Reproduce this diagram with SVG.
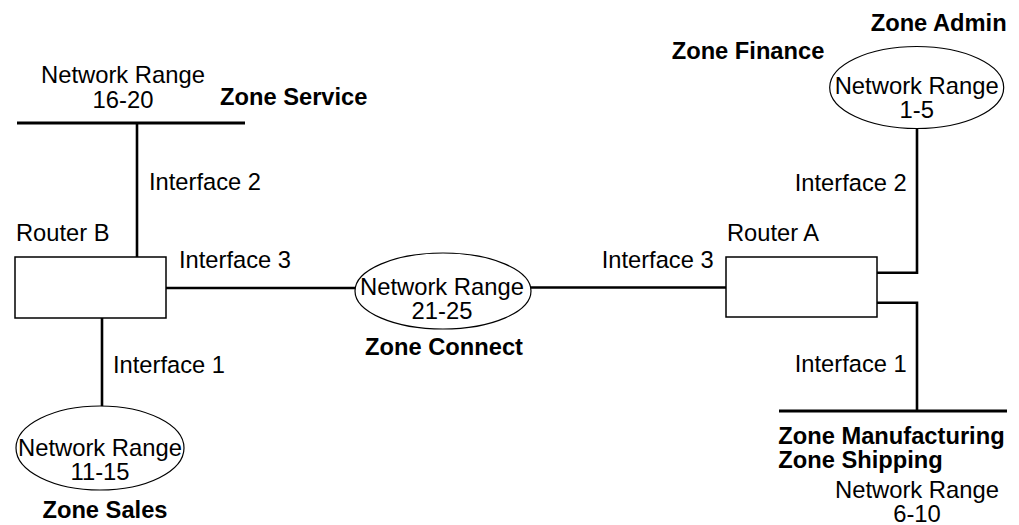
<svg xmlns="http://www.w3.org/2000/svg" width="1019" height="525" viewBox="0 0 1019 525">
<style>
text{font-family:"Liberation Sans",Arial,sans-serif;fill:#000}
.lbl{font-size:23.7px}
.nr{font-size:23.8px;text-anchor:middle}
.zone{font-size:23.7px;font-weight:bold}
.bus{stroke:#000;stroke-width:3;fill:none}
.wire{stroke:#000;stroke-width:2.6;fill:none}
.router{fill:#fff;stroke:#000;stroke-width:1.5}
.net{fill:#fff;stroke:#000;stroke-width:1.2}
</style>
<rect width="1019" height="525" fill="#fff"/>
<g id="connectors">
<line class="wire" x1="137" y1="123" x2="137" y2="257"/>
<line class="wire" x1="166" y1="288" x2="355" y2="288"/>
<line class="wire" x1="531" y1="287.5" x2="726" y2="287.5"/>
<polyline class="wire" points="877,272.7 917,272.7 917,128.5"/>
<polyline class="wire" points="877,302.7 917,302.7 917,411"/>
<line class="wire" x1="102" y1="318" x2="102" y2="407"/>
<text class="lbl" x="149" y="190">Interface 2</text>
<text class="lbl" x="179" y="268">Interface 3</text>
<text class="lbl" x="113" y="373">Interface 1</text>
<text class="lbl" x="601.7" y="268">Interface 3</text>
<text class="lbl" x="906.7" y="190.7" text-anchor="end">Interface 2</text>
<text class="lbl" x="906.7" y="371.7" text-anchor="end">Interface 1</text>
</g>
<g id="net-service">
<line class="bus" x1="17" y1="123" x2="245" y2="123"/>
<text class="nr" x="123" y="83">Network Range</text>
<text class="nr" x="123" y="107.5">16-20</text>
<text class="zone" x="220" y="105">Zone Service</text>
</g>
<g id="router-b">
<rect class="router" x="15" y="257" width="151" height="61"/>
<text class="lbl" x="16" y="241">Router B</text>
</g>
<g id="net-connect">
<ellipse class="net" cx="443" cy="291" rx="88" ry="38"/>
<text class="nr" x="442" y="295">Network Range</text>
<text class="nr" x="442" y="319">21-25</text>
<text class="zone" x="444" y="355" text-anchor="middle">Zone Connect</text>
</g>
<g id="router-a">
<rect class="router" x="726" y="257" width="151" height="60"/>
<text class="lbl" x="727" y="241">Router A</text>
</g>
<g id="net-admin">
<ellipse class="net" cx="916.7" cy="87.5" rx="87" ry="41"/>
<text class="nr" x="916.7" y="94">Network Range</text>
<text class="nr" x="916.7" y="118.3">1-5</text>
<text class="zone" x="1006.7" y="30.7" text-anchor="end">Zone Admin</text>
<text class="zone" x="671.7" y="59">Zone Finance</text>
</g>
<g id="net-manufacturing">
<line class="bus" x1="779" y1="411" x2="1007" y2="411"/>
<text class="zone" x="778.3" y="444.3">Zone Manufacturing</text>
<text class="zone" x="778.3" y="468.3">Zone Shipping</text>
<text class="nr" x="917" y="497.7">Network Range</text>
<text class="nr" x="917" y="522">6-10</text>
</g>
<g id="net-sales">
<ellipse class="net" cx="100" cy="448" rx="84" ry="42"/>
<text class="nr" x="100" y="456">Network Range</text>
<text class="nr" x="100" y="480">11-15</text>
<text class="zone" x="105" y="518" text-anchor="middle">Zone Sales</text>
</g>
</svg>
